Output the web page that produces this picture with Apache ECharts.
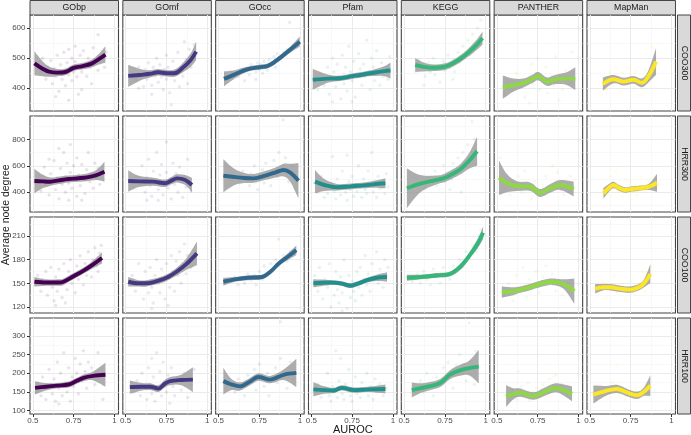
<!DOCTYPE html>
<html>
<head>
<meta charset="utf-8">
<script src="https://cdn.jsdelivr.net/npm/echarts@6/dist/echarts.min.js"></script>
<style>
html, body { margin:0; padding:0; background:#fff; }
#chart { width:691px; height:435px; }
</style>
</head>
<body>
<div id="chart"></div>
<script>
const metodos = ['GObp','GOmf','GOcc','Pfam','KEGG','PANTHER','MapMan'];
const redes = ['COO300','HRR300','COO100','HRR100'];
const colores = ['#440154','#443A83','#31688E','#21908C','#35B779','#8FD744','#FDE725'];

const x_ticks = [0.5, 0.75, 1];
const x_minor = [0.625, 0.875];
const x_lim = [0.483, 1.025];
const y_ticks = [[400,500,600],[400,600,800],[120,150,180,210],[100,150,200,250,300]];
const y_minor = [[350,450,550],[300,500,700,900],[135,165,195,225],[125,175,225,275,325]];
const y_lim = [[324,644],[251,976],[112.4,234],[91,348]];

/* puntos [AUROC, grado medio] */
const pts_COO300_GObp = [[0.53,478],[0.55,455],[0.56,500],[0.58,430],[0.59,470],[0.6,445],[0.61,492],[0.62,415],[0.63,465],[0.64,440],[0.65,510],[0.66,455],[0.66,390],[0.67,478],[0.68,430],[0.69,520],[0.7,462],[0.7,408],[0.71,485],[0.72,445],[0.72,530],[0.73,470],[0.74,425],[0.74,500],[0.75,455],[0.76,540],[0.76,488],[0.77,438],[0.78,470],[0.79,510],[0.8,455],[0.8,395],[0.81,525],[0.82,480],[0.83,440],[0.84,500],[0.85,470],[0.86,415],[0.87,535],[0.88,490],[0.9,578],[0.9,460],[0.92,505],[0.94,470],[0.95,520],[0.64,372],[0.78,380],[0.72,360]];
const pts_COO300_GOmf = [[0.54,450],[0.56,425],[0.58,470],[0.6,440],[0.61,405],[0.62,462],[0.63,430],[0.64,485],[0.65,445],[0.66,410],[0.67,470],[0.68,440],[0.69,500],[0.7,455],[0.7,420],[0.71,478],[0.72,438],[0.73,395],[0.74,462],[0.75,510],[0.75,430],[0.76,470],[0.77,385],[0.78,448],[0.78,345],[0.79,490],[0.8,425],[0.81,460],[0.82,520],[0.83,405],[0.84,470],[0.85,440],[0.86,555],[0.87,495],[0.88,415],[0.89,530],[0.9,470],[0.91,500],[0.92,545],[0.66,380],[0.58,400]];
const pts_COO300_GOcc = [[0.58,450],[0.62,438],[0.65,455],[0.68,462],[0.69,445],[0.7,478],[0.72,470],[0.73,455],[0.74,485],[0.75,462],[0.76,478],[0.77,450],[0.78,490],[0.79,470],[0.8,460],[0.81,495],[0.82,478],[0.84,505],[0.85,470],[0.86,515],[0.88,500],[0.9,520],[0.92,530],[0.936,619],[0.73,430],[0.66,425]];
const pts_COO300_Pfam = [[0.52,420],[0.54,395],[0.56,450],[0.58,410],[0.6,470],[0.61,380],[0.62,435],[0.63,500],[0.64,455],[0.65,405],[0.66,480],[0.67,430],[0.68,365],[0.69,510],[0.7,445],[0.7,415],[0.71,470],[0.72,390],[0.73,540],[0.74,455],[0.75,425],[0.76,490],[0.77,370],[0.78,445],[0.79,515],[0.8,465],[0.81,410],[0.82,480],[0.83,440],[0.84,560],[0.85,455],[0.86,395],[0.87,500],[0.88,470],[0.89,425],[0.9,525],[0.91,455],[0.92,410],[0.93,485],[0.94,440],[0.96,470],[0.97,430],[0.98,505],[0.75,355],[0.63,355]];
const pts_COO300_KEGG = [[0.57,455],[0.59,495],[0.61,470],[0.63,440],[0.65,485],[0.66,455],[0.68,500],[0.69,445],[0.71,475],[0.72,420],[0.74,490],[0.75,460],[0.77,510],[0.78,470],[0.8,495],[0.81,455],[0.83,520],[0.84,485],[0.86,540],[0.87,500],[0.89,560],[0.9,510],[0.92,580],[0.93,530],[0.95,600],[0.96,555],[0.97,628],[0.62,410],[0.8,430]];
const pts_COO300_PANTHER = [[0.54,380],[0.57,420],[0.6,395],[0.62,450],[0.65,405],[0.67,370],[0.69,430],[0.71,480],[0.72,415],[0.74,450],[0.75,500],[0.76,395],[0.78,430],[0.8,470],[0.81,385],[0.83,440],[0.85,410],[0.86,505],[0.88,445],[0.9,395],[0.92,460],[0.94,420],[0.96,520],[0.7,350],[0.88,360]];
const pts_COO300_MapMan = [[0.58,440],[0.6,395],[0.62,455],[0.64,410],[0.66,470],[0.67,430],[0.69,385],[0.7,450],[0.72,415],[0.74,470],[0.75,440],[0.77,400],[0.78,455],[0.8,430],[0.82,380],[0.84,460],[0.86,420],[0.88,540],[0.9,470],[0.79,375]];

const pts_HRR300_GObp = [[0.52,470],[0.54,520],[0.55,410],[0.57,590],[0.58,450],[0.6,380],[0.61,540],[0.62,470],[0.63,640],[0.64,420],[0.65,510],[0.66,350],[0.67,580],[0.68,460],[0.69,700],[0.7,520],[0.7,400],[0.71,620],[0.72,470],[0.73,760],[0.73,550],[0.74,430],[0.75,600],[0.76,490],[0.77,370],[0.77,660],[0.78,530],[0.79,450],[0.8,610],[0.81,500],[0.82,390],[0.83,570],[0.84,700],[0.85,480],[0.86,540],[0.87,430],[0.88,620],[0.89,510],[0.9,580],[0.91,460],[0.93,550],[0.66,730],[0.72,340],[0.6,650],[0.8,340]];
const pts_HRR300_GOmf = [[0.55,430],[0.57,520],[0.59,460],[0.6,600],[0.62,400],[0.63,510],[0.64,650],[0.65,450],[0.66,370],[0.67,560],[0.68,480],[0.69,700],[0.7,420],[0.71,530],[0.72,610],[0.73,380],[0.74,470],[0.75,780],[0.75,550],[0.76,430],[0.77,500],[0.78,350],[0.79,620],[0.8,460],[0.81,540],[0.82,400],[0.83,590],[0.84,480],[0.85,360],[0.86,520],[0.87,440],[0.88,650],[0.89,480],[0.9,410],[0.7,340],[0.63,340]];
const pts_HRR300_GOcc = [[0.6,520],[0.63,470],[0.65,560],[0.67,490],[0.69,450],[0.7,540],[0.72,600],[0.73,480],[0.74,420],[0.75,530],[0.77,570],[0.78,470],[0.79,620],[0.8,510],[0.82,450],[0.83,560],[0.84,640],[0.86,520],[0.87,700],[0.89,580],[0.895,946],[0.91,660],[0.93,480],[0.95,600],[0.97,430]];
const pts_HRR300_Pfam = [[0.52,470],[0.54,400],[0.56,520],[0.58,360],[0.59,440],[0.6,390],[0.62,470],[0.63,670],[0.64,410],[0.65,350],[0.66,500],[0.67,430],[0.68,380],[0.69,560],[0.7,450],[0.71,400],[0.72,680],[0.72,340],[0.73,480],[0.74,420],[0.75,520],[0.76,370],[0.77,460],[0.78,410],[0.79,600],[0.8,440],[0.81,360],[0.82,500],[0.83,420],[0.84,390],[0.85,560],[0.86,450],[0.87,700],[0.88,400],[0.89,480],[0.9,360],[0.91,520],[0.92,430],[0.93,470],[0.95,390],[0.96,540],[0.97,440]];
const pts_HRR300_KEGG = [[0.6,470],[0.63,430],[0.65,520],[0.67,480],[0.69,560],[0.7,450],[0.72,510],[0.74,600],[0.75,480],[0.77,550],[0.79,500],[0.8,620],[0.82,560],[0.83,660],[0.85,540],[0.86,700],[0.88,600],[0.89,760],[0.9,650],[0.916,933],[0.92,700],[0.93,800],[0.94,620],[0.85,400],[0.78,420]];
const pts_HRR300_PANTHER = [[0.52,660],[0.55,430],[0.58,380],[0.6,470],[0.63,520],[0.65,400],[0.67,560],[0.69,430],[0.71,350],[0.73,480],[0.75,410],[0.76,380],[0.78,450],[0.8,520],[0.82,400],[0.84,600],[0.86,470],[0.87,550],[0.89,420],[0.91,380],[0.93,470],[0.95,520],[0.97,430]];
const pts_HRR300_MapMan = [[0.59,430],[0.61,380],[0.63,520],[0.64,470],[0.66,560],[0.67,410],[0.69,450],[0.7,370],[0.72,500],[0.73,430],[0.75,480],[0.76,400],[0.78,450],[0.79,380],[0.81,520],[0.82,440],[0.84,410],[0.86,480],[0.88,430],[0.9,510]];

const pts_COO100_GObp = [[0.52,148],[0.53,160],[0.55,140],[0.56,155],[0.58,165],[0.59,135],[0.6,150],[0.61,170],[0.62,145],[0.63,128],[0.64,158],[0.65,140],[0.66,168],[0.67,150],[0.68,132],[0.69,175],[0.7,155],[0.71,142],[0.72,165],[0.73,180],[0.74,150],[0.75,160],[0.76,138],[0.77,172],[0.78,155],[0.79,185],[0.8,165],[0.81,148],[0.82,175],[0.83,160],[0.84,190],[0.85,170],[0.86,158],[0.87,180],[0.88,195],[0.89,172],[0.9,165],[0.91,188],[0.92,198],[0.64,122],[0.7,125]];
const pts_COO100_GOmf = [[0.52,150],[0.54,160],[0.56,140],[0.58,175],[0.6,148],[0.61,130],[0.62,165],[0.63,152],[0.64,138],[0.65,170],[0.66,145],[0.67,125],[0.68,160],[0.69,180],[0.7,150],[0.71,138],[0.72,168],[0.73,155],[0.74,130],[0.75,175],[0.76,160],[0.77,145],[0.78,185],[0.79,165],[0.8,140],[0.81,178],[0.82,160],[0.83,190],[0.84,150],[0.85,175],[0.86,200],[0.87,162],[0.88,185],[0.9,170],[0.76,122],[0.66,118]];
const pts_COO100_GOcc = [[0.56,152],[0.6,158],[0.62,148],[0.64,156],[0.66,150],[0.68,162],[0.7,154],[0.72,160],[0.73,148],[0.75,165],[0.77,155],[0.78,172],[0.8,162],[0.82,175],[0.84,168],[0.85,180],[0.87,172],[0.869,206],[0.9,185],[0.92,178],[0.94,190],[0.96,186]];
const pts_COO100_Pfam = [[0.52,160],[0.54,140],[0.55,170],[0.57,130],[0.58,155],[0.6,145],[0.61,175],[0.62,120],[0.63,150],[0.64,135],[0.65,165],[0.66,142],[0.67,125],[0.68,158],[0.69,138],[0.7,180],[0.71,148],[0.72,118],[0.73,160],[0.74,132],[0.75,152],[0.76,140],[0.77,128],[0.78,165],[0.79,145],[0.8,170],[0.81,135],[0.82,155],[0.83,185],[0.84,148],[0.85,162],[0.86,140],[0.87,175],[0.88,155],[0.9,190],[0.91,150],[0.92,168],[0.94,145],[0.95,180],[0.96,160],[0.97,170],[0.69,115]];
const pts_COO100_KEGG = [[0.55,152],[0.58,162],[0.6,150],[0.62,165],[0.64,155],[0.66,148],[0.68,168],[0.7,158],[0.72,150],[0.74,170],[0.76,160],[0.78,155],[0.8,172],[0.82,165],[0.84,180],[0.86,170],[0.88,190],[0.9,182],[0.92,198],[0.94,190],[0.96,210],[0.97,218]];
const pts_COO100_PANTHER = [[0.54,135],[0.57,150],[0.6,128],[0.62,160],[0.64,140],[0.66,170],[0.68,132],[0.7,155],[0.72,145],[0.74,165],[0.76,138],[0.78,158],[0.8,172],[0.82,148],[0.84,162],[0.86,140],[0.88,155],[0.9,135],[0.93,150],[0.96,130]];
const pts_COO100_MapMan = [[0.55,140],[0.58,152],[0.6,132],[0.63,148],[0.65,160],[0.67,138],[0.7,150],[0.72,130],[0.74,145],[0.76,155],[0.78,135],[0.8,148],[0.82,165],[0.84,140],[0.86,158],[0.87,170]];

const pts_HRR100_GObp = [[0.52,150],[0.53,175],[0.55,140],[0.56,190],[0.57,160],[0.58,130],[0.6,210],[0.61,170],[0.62,145],[0.63,185],[0.64,125],[0.65,230],[0.66,160],[0.67,200],[0.68,140],[0.69,255],[0.7,175],[0.71,150],[0.72,215],[0.73,125],[0.74,190],[0.75,165],[0.76,240],[0.77,200],[0.78,145],[0.79,225],[0.8,180],[0.81,260],[0.82,205],[0.83,160],[0.84,230],[0.85,190],[0.86,215],[0.88,170],[0.9,255],[0.92,200],[0.93,130],[0.66,118]];
const pts_HRR100_GOmf = [[0.55,150],[0.57,180],[0.59,140],[0.6,200],[0.62,160],[0.63,130],[0.64,215],[0.65,170],[0.66,145],[0.67,190],[0.68,125],[0.69,255],[0.7,160],[0.71,205],[0.72,140],[0.73,230],[0.74,175],[0.75,150],[0.76,195],[0.77,120],[0.78,215],[0.79,165],[0.8,140],[0.82,185],[0.84,155],[0.86,200],[0.88,135],[0.9,170],[0.92,210],[0.66,240]];
const pts_HRR100_GOcc = [[0.58,170],[0.6,150],[0.62,185],[0.64,160],[0.66,140],[0.68,195],[0.7,175],[0.72,210],[0.73,155],[0.75,225],[0.76,185],[0.78,165],[0.8,200],[0.81,140],[0.83,190],[0.85,215],[0.86,175],[0.879,338],[0.88,240],[0.9,195],[0.92,160],[0.94,230],[0.96,185]];
const pts_HRR100_Pfam = [[0.52,150],[0.54,170],[0.56,135],[0.58,160],[0.6,200],[0.61,140],[0.62,125],[0.63,165],[0.64,150],[0.65,260],[0.66,135],[0.67,180],[0.68,240],[0.69,145],[0.7,130],[0.71,170],[0.72,155],[0.73,210],[0.74,140],[0.75,125],[0.76,160],[0.77,190],[0.78,145],[0.8,135],[0.81,175],[0.82,155],[0.84,200],[0.85,140],[0.86,165],[0.88,130],[0.89,185],[0.9,150],[0.92,170],[0.94,140],[0.96,160]];
const pts_HRR100_KEGG = [[0.6,180],[0.62,150],[0.64,200],[0.66,165],[0.68,140],[0.7,190],[0.72,170],[0.74,215],[0.75,180],[0.77,230],[0.79,195],[0.8,160],[0.82,220],[0.84,250],[0.86,200],[0.88,180],[0.9,335],[0.91,235],[0.93,170],[0.94,260]];
const pts_HRR100_PANTHER = [[0.56,140],[0.6,155],[0.62,130],[0.63,205],[0.65,165],[0.67,145],[0.69,175],[0.7,128],[0.72,150],[0.74,160],[0.76,138],[0.78,170],[0.8,145],[0.82,185],[0.84,155],[0.86,195],[0.88,150],[0.9,170],[0.93,140],[0.95,158]];
const pts_HRR100_MapMan = [[0.53,150],[0.55,170],[0.58,135],[0.6,160],[0.62,145],[0.64,175],[0.66,155],[0.667,220],[0.68,140],[0.7,165],[0.72,130],[0.74,150],[0.76,140],[0.78,160],[0.8,135],[0.82,155],[0.84,170],[0.86,145]];

/* curvas loess [AUROC, ajuste, inferior, superior] */
const fit_COO300_GObp = [[0.51,483,443,523],[0.56,465,440,490],[0.6,455,438,472],[0.65,452,440,464],[0.7,454,443,465],[0.75,468,457,479],[0.8,473,462,484],[0.86,482,469,495],[0.9,495,478,512],[0.945,512,486,540]];
const fit_COO300_GOmf = [[0.516,441,404,478],[0.6,445,428,462],[0.65,448,436,460],[0.7,453,442,464],[0.75,450,439,461],[0.8,450,438,462],[0.85,468,452,484],[0.9,495,472,518],[0.932,522,494,556]];
const fit_COO300_GOcc = [[0.534,431,406,456],[0.6,446,432,460],[0.65,458,448,468],[0.7,466,458,474],[0.75,470,462,478],[0.8,474,466,482],[0.85,490,481,499],[0.9,511,502,520],[0.95,533,522,544],[0.998,555,538,572]];
const fit_COO300_Pfam = [[0.509,428,394,464],[0.6,432,418,446],[0.677,433,424,442],[0.75,440,431,449],[0.8,444,435,453],[0.85,449,440,458],[0.9,453,441,465],[0.95,457,440,474],[0.985,459,432,486]];
const fit_COO300_KEGG = [[0.568,478,455,501],[0.62,471,456,486],[0.68,468,457,479],[0.75,472,461,483],[0.8,483,472,494],[0.85,500,488,512],[0.9,522,508,536],[0.95,548,530,566],[0.98,567,545,589]];
const fit_COO300_PANTHER = [[0.536,403,364,442],[0.6,410,388,432],[0.662,417,402,432],[0.72,432,418,446],[0.754,440,426,454],[0.806,422,408,436],[0.85,428,413,443],[0.888,431,414,448],[0.93,432,410,454],[0.98,431,394,470]];
const fit_COO300_MapMan = [[0.58,414,392,436],[0.645,430,416,444],[0.707,422,409,435],[0.768,428,415,441],[0.82,418,403,433],[0.86,440,420,460],[0.906,489,444,534]];

const fit_HRR300_GObp = [[0.51,485,392,578],[0.56,482,430,534],[0.606,480,448,512],[0.66,490,462,518],[0.719,500,474,526],[0.78,506,480,532],[0.832,513,484,542],[0.89,530,492,568],[0.939,555,480,630]];
const fit_HRR300_GOmf = [[0.516,485,404,566],[0.58,482,440,524],[0.67,480,450,510],[0.742,468,440,496],[0.78,488,460,516],[0.814,505,474,536],[0.865,493,455,531],[0.906,455,400,510]];
const fit_HRR300_GOcc = [[0.53,525,400,650],[0.6,515,455,575],[0.66,508,470,546],[0.715,505,472,538],[0.797,530,496,564],[0.85,550,512,588],[0.899,568,520,616],[0.94,548,480,616],[0.99,487,354,620]];
const fit_HRR300_Pfam = [[0.523,480,392,568],[0.58,455,410,500],[0.657,438,413,463],[0.72,442,420,464],[0.759,447,425,469],[0.82,452,430,474],[0.88,460,435,485],[0.954,468,430,506]];
const fit_HRR300_KEGG = [[0.517,430,280,580],[0.6,465,400,530],[0.7,493,460,526],[0.75,510,478,542],[0.8,540,505,575],[0.85,580,540,620],[0.9,640,580,700],[0.947,710,600,820]];
const fit_HRR300_PANTHER = [[0.513,510,380,640],[0.56,470,400,540],[0.622,447,410,484],[0.704,442,410,474],[0.765,395,365,425],[0.827,430,398,462],[0.888,455,418,492],[0.97,425,370,480]];
const fit_HRR300_MapMan = [[0.584,392,352,432],[0.615,430,400,460],[0.645,455,430,480],[0.68,432,410,454],[0.717,417,397,437],[0.76,425,405,445],[0.799,430,410,450],[0.86,440,418,462],[0.912,472,404,540]];

const fit_COO100_GObp = [[0.51,152,146,158],[0.58,151,147,155],[0.658,151,147,155],[0.688,152,148,156],[0.75,159,155,163],[0.811,166,162,170],[0.87,174,169,179],[0.924,182,175,189]];
const fit_COO100_GOmf = [[0.516,152,146,158],[0.58,150,146,154],[0.629,150,146,154],[0.711,154,150,158],[0.76,158,154,162],[0.814,165,160,170],[0.87,174,167,181],[0.937,188,173,203]];
const fit_COO100_GOcc = [[0.53,152,147,157],[0.6,155,152,158],[0.68,157,154,160],[0.766,158,155,161],[0.82,165,162,168],[0.869,175,172,178],[0.92,183,179,187],[0.977,192,186,198]];
const fit_COO100_Pfam = [[0.513,150,145,155],[0.616,151,148,154],[0.68,150,147,153],[0.739,147,144,150],[0.79,150,147,153],[0.841,154,151,157],[0.9,157,153,161],[0.964,158,152,164]];
const fit_COO100_KEGG = [[0.517,157,153,161],[0.6,158,155,161],[0.7,160,157,163],[0.783,162,159,165],[0.85,172,168,176],[0.9,185,181,189],[0.95,200,194,206],[0.984,214,206,222]];
const fit_COO100_PANTHER = [[0.53,139,132,146],[0.6,140,135,145],[0.642,142,138,146],[0.7,145,141,149],[0.745,148,144,152],[0.8,151,147,155],[0.837,152,148,156],[0.908,149,143,155],[0.974,140,124,156]];
const fit_COO100_MapMan = [[0.533,143,137,149],[0.58,145,141,149],[0.625,145,141,149],[0.69,143,139,147],[0.748,142,138,146],[0.809,146,142,150],[0.84,152,146,158],[0.871,162,150,174]];

const fit_HRR100_GObp = [[0.514,161,143,179],[0.58,164,154,174],[0.648,167,160,174],[0.719,170,162,178],[0.77,180,172,188],[0.811,188,179,197],[0.87,193,181,205],[0.945,196,164,228]];
const fit_HRR100_GOmf = [[0.526,163,145,181],[0.6,164,154,174],[0.65,164,155,173],[0.701,159,150,168],[0.74,172,162,182],[0.773,179,168,190],[0.84,182,168,196],[0.912,183,150,216]];
const fit_HRR100_GOcc = [[0.53,179,143,215],[0.58,170,155,185],[0.633,165,154,176],[0.69,177,167,187],[0.746,190,180,200],[0.817,183,173,193],[0.899,196,182,210],[0.977,201,163,239]];
const fit_HRR100_Pfam = [[0.513,157,138,176],[0.58,155,145,165],[0.636,154,147,161],[0.688,161,154,168],[0.759,155,148,162],[0.85,157,150,164],[0.954,158,146,170]];
const fit_HRR100_KEGG = [[0.547,155,135,175],[0.6,160,147,173],[0.65,165,154,176],[0.721,174,163,185],[0.783,197,185,209],[0.85,209,194,224],[0.9,214,194,234],[0.957,218,173,263]];
const fit_HRR100_PANTHER = [[0.556,139,110,168],[0.6,145,130,160],[0.642,148,137,159],[0.724,139,129,149],[0.79,150,139,161],[0.857,161,149,173],[0.91,155,140,170],[0.96,145,125,165]];
const fit_HRR100_MapMan = [[0.522,143,119,167],[0.6,153,140,166],[0.666,158,147,169],[0.73,148,138,158],[0.789,141,131,151],[0.83,150,139,161],[0.871,167,139,195]];

const puntos = [
  [pts_COO300_GObp, pts_COO300_GOmf, pts_COO300_GOcc, pts_COO300_Pfam, pts_COO300_KEGG, pts_COO300_PANTHER, pts_COO300_MapMan],
  [pts_HRR300_GObp, pts_HRR300_GOmf, pts_HRR300_GOcc, pts_HRR300_Pfam, pts_HRR300_KEGG, pts_HRR300_PANTHER, pts_HRR300_MapMan],
  [pts_COO100_GObp, pts_COO100_GOmf, pts_COO100_GOcc, pts_COO100_Pfam, pts_COO100_KEGG, pts_COO100_PANTHER, pts_COO100_MapMan],
  [pts_HRR100_GObp, pts_HRR100_GOmf, pts_HRR100_GOcc, pts_HRR100_Pfam, pts_HRR100_KEGG, pts_HRR100_PANTHER, pts_HRR100_MapMan]
];
const ajustes = [
  [fit_COO300_GObp, fit_COO300_GOmf, fit_COO300_GOcc, fit_COO300_Pfam, fit_COO300_KEGG, fit_COO300_PANTHER, fit_COO300_MapMan],
  [fit_HRR300_GObp, fit_HRR300_GOmf, fit_HRR300_GOcc, fit_HRR300_Pfam, fit_HRR300_KEGG, fit_HRR300_PANTHER, fit_HRR300_MapMan],
  [fit_COO100_GObp, fit_COO100_GOmf, fit_COO100_GOcc, fit_COO100_Pfam, fit_COO100_KEGG, fit_COO100_PANTHER, fit_COO100_MapMan],
  [fit_HRR100_GObp, fit_HRR100_GOmf, fit_HRR100_GOcc, fit_HRR100_Pfam, fit_HRR100_KEGG, fit_HRR100_PANTHER, fit_HRR100_MapMan]
];

/* geometria de los paneles */
const fuente = '"Liberation Sans", Arial, Helvetica, sans-serif';
const panel_left = 30, panel_paso = 92.83, panel_ancho = 88.5;
const panel_top = 15, panel_vpaso = 101, panel_alto = 96;

/* curva suave (tramos bezier) por una lista de puntos en pixeles */
function curva(p) {
  let s = '';
  const k = 0.18;
  for (let i = 0; i < p.length - 1; i++) {
    const a = p[Math.max(i - 1, 0)], b = p[i], c = p[i + 1], d = p[Math.min(i + 2, p.length - 1)];
    s += ' C' + (b[0] + (c[0] - a[0]) * k) + ' ' + (b[1] + (c[1] - a[1]) * k) + ' '
       + (c[0] - (d[0] - b[0]) * k) + ' ' + (c[1] - (d[1] - b[1]) * k) + ' ' + c[0] + ' ' + c[1];
  }
  return s;
}

/* banda de confianza: se dibuja entera desde el primer elemento */
function dibujaBanda(params, api) {
  if (params.dataIndexInside !== 0) return null;
  const n = params.dataInsideLength;
  const sup = [], inf = [];
  for (let i = 0; i < n; i++) {
    sup.push(api.coord([api.value(0, i), api.value(3, i)]));
    inf.push(api.coord([api.value(0, i), api.value(2, i)]));
  }
  inf.reverse();
  const ruta = 'M' + sup[0][0] + ' ' + sup[0][1] + curva(sup)
             + ' L' + inf[0][0] + ' ' + inf[0][1] + curva(inf) + ' Z';
  return {
    type: 'path',
    shape: {pathData: ruta},
    style: {fill: '#999999', opacity: 0.8}
  };
}

var myChart = echarts.init(document.getElementById('chart'), null, {renderer: 'canvas'});

const grids = [], xAxes = [], yAxes = [], series = [], graphics = [];

for (let r = 0; r < redes.length; r++) {
  for (let c = 0; c < metodos.length; c++) {
    const g = r * metodos.length + c;
    const left = panel_left + c * panel_paso;
    const top = panel_top + r * panel_vpaso;
    const abajo = (r === redes.length - 1);
    const izq = (c === 0);

    grids.push({
      left: left, top: top, width: panel_ancho, height: panel_alto,
      show: true, borderColor: '#444', borderWidth: 1.1,
      backgroundColor: 'transparent', containLabel: false, outerBoundsMode: 'none'
    });

    // eje principal (cortes mayores) y uno escondido para la reticula menor
    xAxes.push({
      gridIndex: g, type: 'value', position: 'bottom', min: x_lim[0], max: x_lim[1],
      axisLine: {show: false, onZero: false},
      axisTick: {show: abajo, customValues: x_ticks, length: 3, lineStyle: {color: '#333', width: 1}},
      axisLabel: {show: abajo, customValues: x_ticks, margin: 3, fontSize: 8, color: '#4d4d4d', fontFamily: fuente},
      splitLine: {show: true, lineStyle: {color: '#ebebeb', width: 1}}
    });
    xAxes.push({
      gridIndex: g, type: 'value', position: 'top', min: x_lim[0], max: x_lim[1],
      axisLine: {show: false, onZero: false},
      axisTick: {show: false, customValues: x_minor},
      axisLabel: {show: false},
      splitLine: {show: true, lineStyle: {color: '#f3f3f3', width: 0.6}}
    });
    yAxes.push({
      gridIndex: g, type: 'value', position: 'left', min: y_lim[r][0], max: y_lim[r][1],
      axisLine: {show: false, onZero: false},
      axisTick: {show: izq, customValues: y_ticks[r], length: 3, lineStyle: {color: '#333', width: 1}},
      axisLabel: {show: izq, customValues: y_ticks[r], margin: 4.5, fontSize: 8, color: '#4d4d4d', fontFamily: fuente},
      splitLine: {show: true, lineStyle: {color: '#ebebeb', width: 1}}
    });
    yAxes.push({
      gridIndex: g, type: 'value', position: 'right', min: y_lim[r][0], max: y_lim[r][1],
      axisLine: {show: false, onZero: false},
      axisTick: {show: false, customValues: y_minor[r]},
      axisLabel: {show: false},
      splitLine: {show: true, lineStyle: {color: '#f3f3f3', width: 0.6}}
    });

    const xi = 2 * g, yi = 2 * g;
    const fit = ajustes[r][c];

    series.push({
      type: 'scatter', xAxisIndex: xi, yAxisIndex: yi, z: 2,
      symbolSize: 3.4, silent: true,
      itemStyle: {color: colores[c], opacity: 0.11},
      data: puntos[r][c]
    });
    series.push({
      type: 'custom', xAxisIndex: xi, yAxisIndex: yi, z: 3, silent: true, clip: true,
      dimensions: ['auroc', 'ajuste', 'inferior', 'superior'],
      encode: {x: 0, y: [1, 2, 3]},
      renderItem: dibujaBanda,
      data: fit
    });
    series.push({
      type: 'line', xAxisIndex: xi, yAxisIndex: yi, z: 4,
      smooth: 0.35, symbol: 'none', silent: true,
      lineStyle: {color: colores[c], width: 3.9},
      data: fit.map(p => [p[0], p[1]])
    });
  }
}

/* tiras de facetas */
metodos.forEach(function (m, c) {
  const left = panel_left + c * panel_paso;
  graphics.push({
    type: 'rect', silent: true,
    shape: {x: left, y: 0.5, width: panel_ancho, height: 14.5},
    style: {fill: '#d9d9d9', stroke: '#444', lineWidth: 1}
  });
  graphics.push({
    type: 'text', silent: true, x: left + panel_ancho / 2, y: 8,
    style: {text: m, fill: '#1a1a1a', fontSize: 8.8, fontFamily: fuente, align: 'center', verticalAlign: 'middle'}
  });
});
redes.forEach(function (red, r) {
  const top = panel_top + r * panel_vpaso;
  graphics.push({
    type: 'rect', silent: true,
    shape: {x: 677.5, y: top, width: 13, height: panel_alto},
    style: {fill: '#d9d9d9', stroke: '#444', lineWidth: 1}
  });
  graphics.push({
    type: 'text', silent: true, x: 684, y: top + panel_alto / 2, rotation: -Math.PI / 2,
    style: {text: red, fill: '#1a1a1a', fontSize: 8.8, fontFamily: fuente, align: 'center', verticalAlign: 'middle'}
  });
});
graphics.push({
  type: 'text', silent: true, x: 352.9, y: 430,
  style: {text: 'AUROC', fill: '#1a1a1a', fontSize: 11, fontFamily: fuente, align: 'center', verticalAlign: 'middle'}
});
graphics.push({
  type: 'text', silent: true, x: 6.5, y: 214.8, rotation: Math.PI / 2,
  style: {text: 'Average node degree', fill: '#1a1a1a', fontSize: 10.5, fontFamily: fuente, align: 'center', verticalAlign: 'middle'}
});

var option = {
  animation: false,
  backgroundColor: '#ffffff',
  grid: grids,
  xAxis: xAxes,
  yAxis: yAxes,
  series: series,
  graphic: graphics
};

myChart.setOption(option);
</script>
</body>
</html>
